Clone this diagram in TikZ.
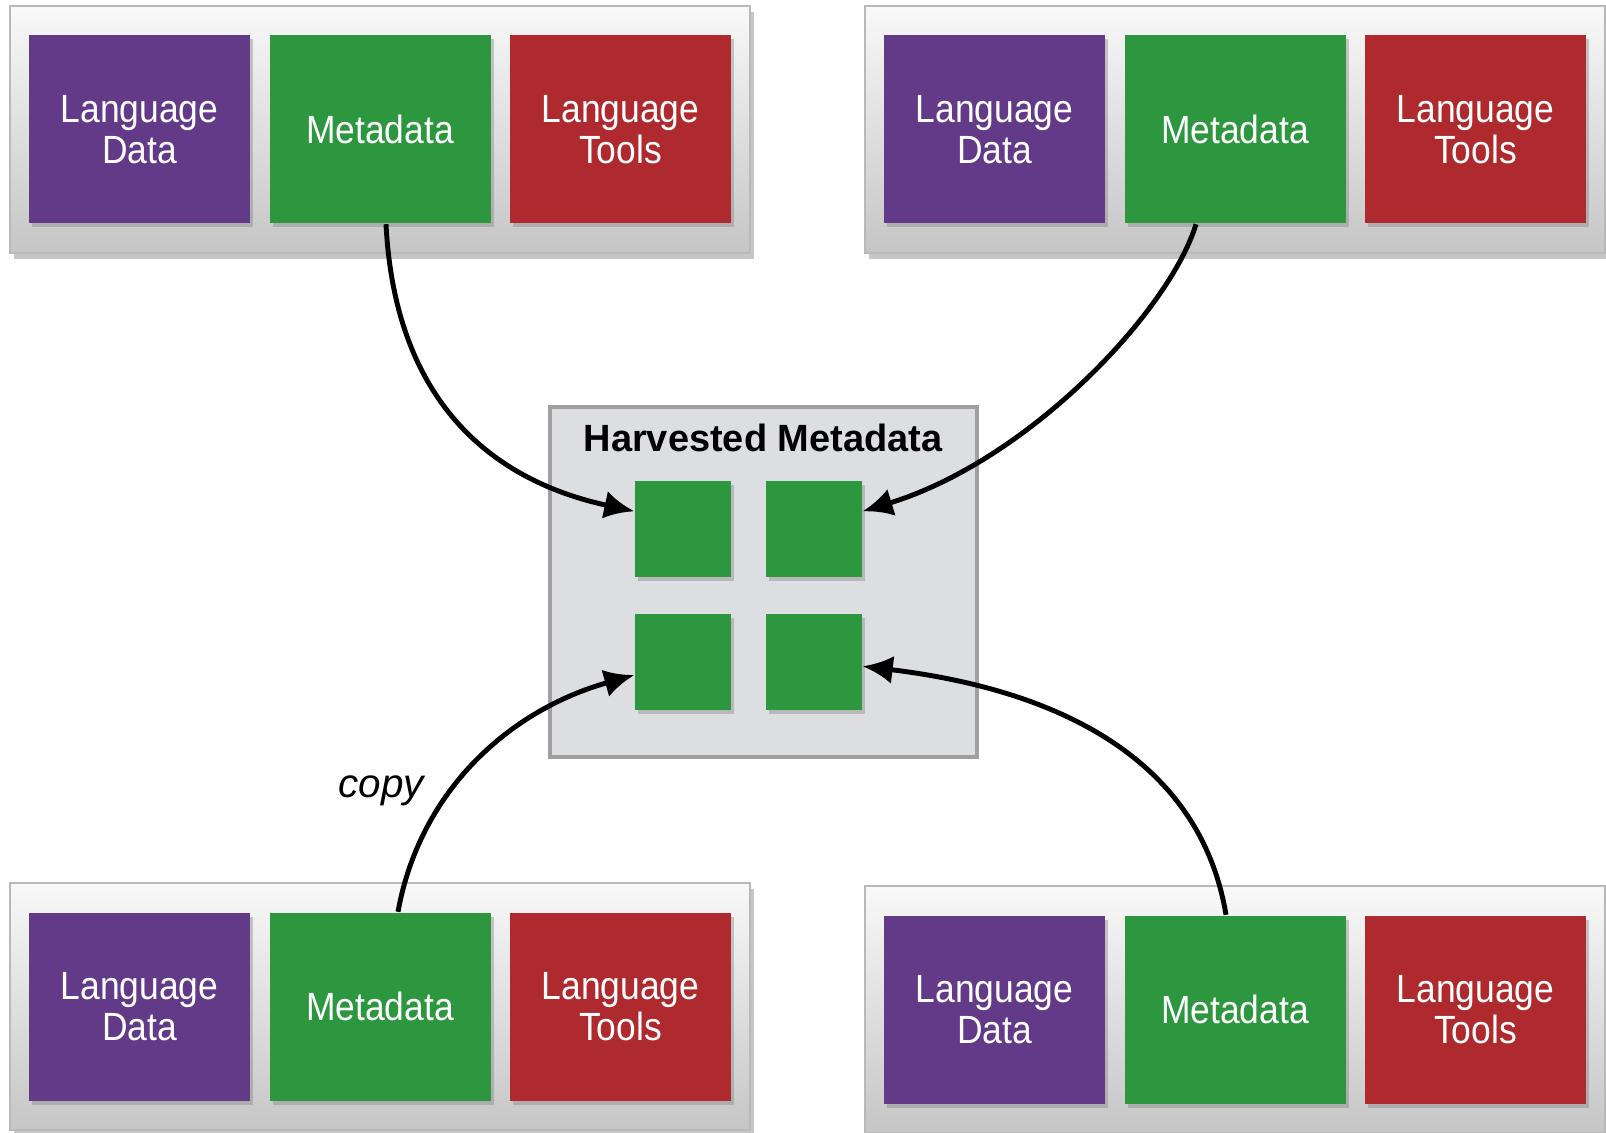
\documentclass[tikz,border=0pt]{standalone}
\usepackage{fontspec}
\setmainfont{Liberation Sans}
\newfontfamily\boxfont[FakeStretch=0.9]{Liberation Sans}
\usetikzlibrary{positioning,shadows,arrows.meta}

\definecolor{ldpurple}{RGB}{99,58,136}
\definecolor{mdgreen}{RGB}{44,151,63}
\definecolor{ltred}{RGB}{175,42,46}
\definecolor{hvgrey}{RGB}{220,222,226}

\tikzset{
    panel/.style={draw=gray!55, top color=gray!5, bottom color=gray!45, inner sep=0pt,
        minimum width=7.4cm, minimum height=2.47cm,
        drop shadow={shadow xshift=0.4mm, shadow yshift=-0.6mm, opacity=0.45}},
    tile/.style={minimum width=2.21cm, minimum height=1.88cm, inner sep=0pt, text=white, align=center,
        font=\boxfont\fontsize{11.2}{11.8}\selectfont,
        drop shadow={shadow xshift=0.3mm, shadow yshift=-0.4mm, opacity=0.4}},
    chip/.style={fill=mdgreen, minimum size=0.96cm, inner sep=0pt,
        drop shadow={shadow xshift=0.3mm, shadow yshift=-0.4mm, opacity=0.4}},
    conn/.style={line width=1.4pt, -{Latex[length=3mm,width=2.8mm]}}
}

\begin{document}
\begin{tikzpicture}
            \useasboundingbox (0,0) rectangle (16.06,-11.32);

            % the four repositories
            \foreach \n/\x/\y in {tl/3.80/-1.295, tr/12.35/-1.295, bl/3.80/-10.065, br/12.35/-10.095}{
                \node[panel] (\n) at (\x,\y) {};
                \node[tile, fill=mdgreen] (\n-meta) at (\n) {Metadata};
                \node[tile, fill=ldpurple, left=0.18cm of \n-meta] (\n-data) {Language\\Data};
                \node[tile, fill=ltred, right=0.18cm of \n-meta] (\n-tools) {Language\\Tools};
            }

            % harvester
            \node[draw=gray!75, line width=0.9pt, fill=hvgrey, minimum width=4.27cm, minimum height=3.5cm] (harvest) at (7.635,-5.82) {};
            \node[font=\bfseries\fontsize{10.8}{12}\selectfont] (title) at (7.63,-4.38) {Harvested Metadata};
            \node[chip] (hvtl) at (6.83,-5.29) {};
            \node[chip] (hvtr) at (8.14,-5.29) {};
            \node[chip] (hvbl) at (6.83,-6.62) {};
            \node[chip] (hvbr) at (8.14,-6.62) {};

            \draw[conn] ([xshift=0.6mm]tl-meta.south) .. controls (3.95,-4.0) and (4.9,-4.8) .. (hvtl.160);
            \draw[conn] ([xshift=-3.9mm]tr-meta.south) .. controls (11.7,-3.1) and (10.3,-4.6) .. (hvtr.20);
            \draw[conn] ([xshift=1.8mm]bl-meta.north) .. controls (4.2,-7.9) and (5.1,-7.1) .. (hvbl.195);
            \draw[conn] ([xshift=-0.9mm]br-meta.north) .. controls (12.0,-7.6) and (10.6,-6.9) .. (hvbr.-5);

            \node[font=\itshape\fontsize{11.5}{13}\selectfont] (copylbl) at (3.81,-7.91) {copy};
\end{tikzpicture}
\end{document}
